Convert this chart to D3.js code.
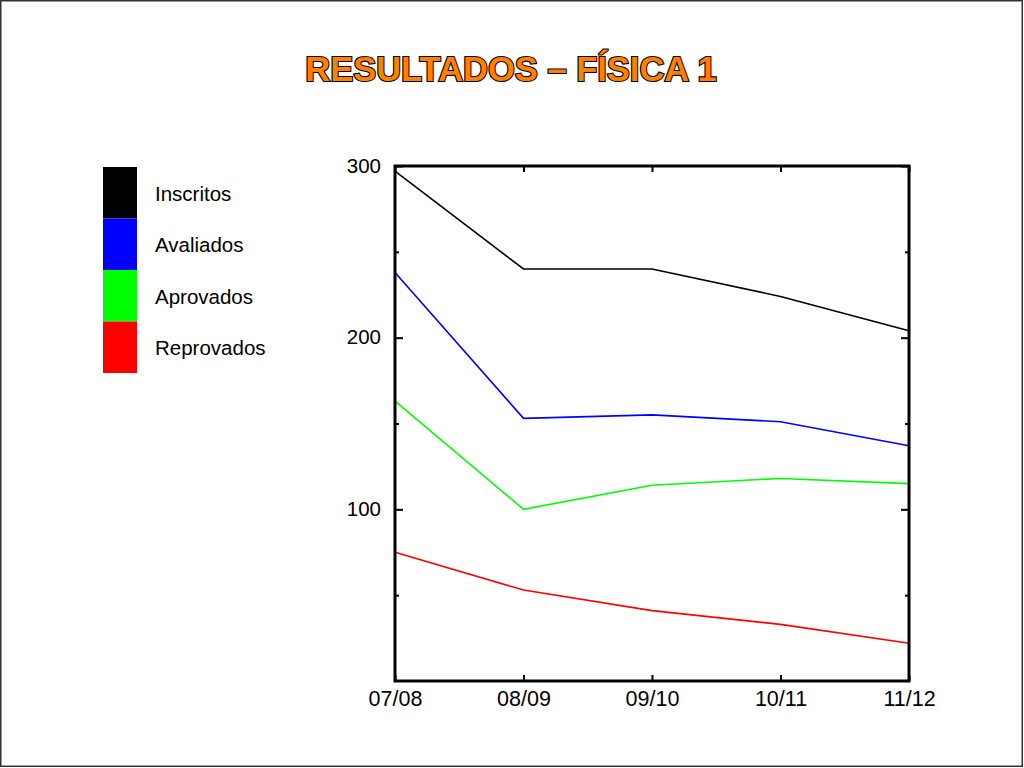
<!DOCTYPE html>
<html>
<head>
<meta charset="utf-8">
<script src="https://cdn.jsdelivr.net/npm/d3@7/dist/d3.min.js"></script>
<style>
  html, body { margin: 0; padding: 0; background: #fff; }
  svg { display: block; }
  text { font-family: "Liberation Sans", Arial, Helvetica, sans-serif; }
</style>
</head>
<body>
<svg id="chart" width="1024" height="768"></svg>
<script>
const categories = ["07/08", "08/09", "09/10", "10/11", "11/12"];
const seriesNames = ["Inscritos", "Avaliados", "Aprovados", "Reprovados"];
const seriesColors = ["#000000", "#0000ff", "#00ff00", "#ff0000"];
const inscritos = [297, 240, 240, 224, 204];
const avaliados = [238, 153, 155, 151, 137];
const aprovados = [163, 100, 114, 118, 115];
const reprovados = [75, 53, 41, 33, 22];
const yMajorTicks = [100, 200, 300];
const yMinorTicks = [50, 150, 250];
const titleText = "RESULTADOS – FÍSICA 1";

const seriesValues = [inscritos, avaliados, aprovados, reprovados];

const svg = d3.select("#chart");
const W = 1024, H = 768;
const plot = { left: 395, right: 909, top: 166, bottom: 681 };

// outer border
svg.append("rect").attr("x", 0.75).attr("y", 0.75)
  .attr("width", W - 2.5).attr("height", H - 2.5)
  .attr("fill", "#fff").attr("stroke", "#333").attr("stroke-width", 1.5);

// title
svg.append("text").attr("x", 511).attr("y", 81)
  .attr("text-anchor", "middle")
  .attr("font-size", 34.5).attr("font-weight", "bold")
  .attr("fill", "#ff8000").attr("stroke", "#000").attr("stroke-width", 2.2)
  .attr("paint-order", "stroke")
  .text(titleText);

const x = d3.scalePoint().domain(categories).range([plot.left, plot.right]);
const y = d3.scaleLinear().domain([0, 300]).range([plot.bottom, plot.top]);

// lines
const line = d3.line().x((d, i) => x(categories[i])).y(d => y(d));
const g = svg.append("g");
seriesValues.forEach((vals, k) => {
  g.append("path").datum(vals)
    .attr("d", line)
    .attr("fill", "none")
    .attr("stroke", seriesColors[k])
    .attr("stroke-width", 1.6)
    .attr("stroke-linejoin", "miter");
});

// axes with inward ticks
const leftAxis = d3.axisLeft(y).tickValues(yMajorTicks).tickSize(-8).tickPadding(14);
const rightAxis = d3.axisRight(y).tickValues(yMajorTicks).tickSize(-8).tickFormat("");
const leftMinor = d3.axisLeft(y).tickValues(yMinorTicks).tickSize(-4).tickFormat("");
const rightMinor = d3.axisRight(y).tickValues(yMinorTicks).tickSize(-4).tickFormat("");
const bottomAxis = d3.axisBottom(x).tickSize(-6).tickPadding(10);
const topAxis = d3.axisTop(x).tickSize(-6).tickFormat("");

function styleAxis(sel, fs) {
  sel.select(".domain").remove();
  sel.selectAll(".tick line").attr("stroke", "#000").attr("stroke-width", 2);
  sel.selectAll(".tick text").attr("fill", "#000")
    .attr("font-size", fs || 20)
    .attr("font-family", '"Liberation Sans", Arial, sans-serif');
}

svg.append("g").attr("transform", `translate(${plot.left},0)`).call(leftAxis).call(styleAxis, 20.5)
  .selectAll(".tick text").attr("dy", "0.3em");
svg.append("g").attr("transform", `translate(${plot.right},0)`).call(rightAxis).call(styleAxis);
svg.append("g").attr("transform", `translate(${plot.left},0)`).call(leftMinor).call(styleAxis);
svg.append("g").attr("transform", `translate(${plot.right},0)`).call(rightMinor).call(styleAxis);
svg.append("g").attr("transform", `translate(0,${plot.bottom})`).call(bottomAxis).call(styleAxis, 21.5);
svg.append("g").attr("transform", `translate(0,${plot.top})`).call(topAxis).call(styleAxis);

// frame
svg.append("rect")
  .attr("x", plot.left).attr("y", plot.top)
  .attr("width", plot.right - plot.left).attr("height", plot.bottom - plot.top)
  .attr("fill", "none").attr("stroke", "#000").attr("stroke-width", 3);

// legend
const legendBlock = d3.scaleBand().domain(seriesNames).range([167, 373]).padding(0);
const lg = svg.append("g");
seriesNames.forEach((name, k) => {
  lg.append("rect")
    .attr("x", 103).attr("y", legendBlock(name))
    .attr("width", 34).attr("height", legendBlock.bandwidth())
    .attr("fill", seriesColors[k]);
  lg.append("text")
    .attr("x", 155).attr("y", legendBlock(name) + legendBlock.bandwidth() / 2 + 1)
    .attr("dy", "0.35em")
    .attr("font-size", 20.5).attr("fill", "#000")
    .text(name);
});
</script>
</body>
</html>
